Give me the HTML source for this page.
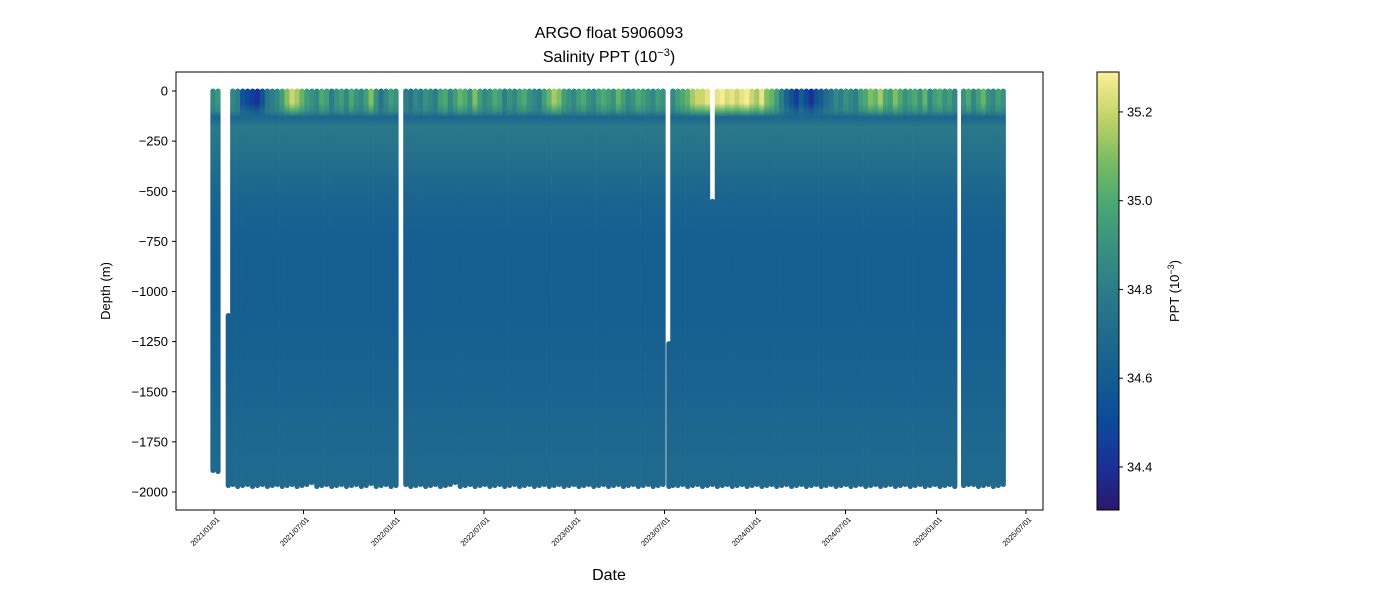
<!DOCTYPE html>
<html><head><meta charset="utf-8"><style>
body{margin:0;background:#fff;}
svg text{font-family:"Liberation Sans",sans-serif;fill:#000;}
</style></head><body>
<svg id="chart" width="1400" height="600" xmlns="http://www.w3.org/2000/svg">
<defs id="defs"></defs>
<text x="609" y="38" font-size="16" text-anchor="middle">ARGO float 5906093</text>
<text x="609" y="62" font-size="16" text-anchor="middle">Salinity PPT (10<tspan dy="-6" font-size="11">−3</tspan><tspan dy="6">)</tspan></text>
<g id="plot"></g>
<rect x="176" y="72" width="867" height="438" fill="none" stroke="#000" stroke-width="1"/>
<g id="yaxis"></g>
<g id="xaxis"></g>
<text transform="translate(110,291) rotate(-90)" font-size="13" text-anchor="middle">Depth (m)</text>
<text x="609" y="580" font-size="16" text-anchor="middle">Date</text>
<g id="cbar"></g>
<text transform="translate(1179,291) rotate(-90)" font-size="13" text-anchor="middle">PPT (10<tspan dy="-5" font-size="9">−3</tspan><tspan dy="5">)</tspan></text>
</svg>
<script>
const profileDays=[-2,8,29,
38,48,58,68,78,88,98,108,118,128,138,148,158,168,178,188,198,208,218,228,238,248,258,268,278,288,298,308,318,328,338,348,358,368,
388,398,408,418,428,438,448,458,468,478,488,498,508,518,528,538,548,558,568,578,588,598,608,618,628,638,648,658,668,678,688,698,708,718,728,738,748,758,768,778,788,798,808,818,828,838,848,858,868,878,888,898,908,
920,
928,938,948,958,968,978,988,998,1008,1018,1028,1038,1048,1058,1068,1078,1088,1098,1108,1118,1128,1138,1148,1158,1168,1178,1188,1198,1208,1218,1228,1238,1248,1258,1268,1278,1288,1298,1308,1318,1328,1338,1348,1358,1368,1378,1388,1398,1408,1418,1428,1438,1448,1458,1468,1478,1488,1498,
1516,1526,1536,1546,1556,1566,1576,1586,1596];
const surfaceSalinity=[34.85,34.92,34.75,
34.85,34.80,34.55,34.50,34.45,34.40,34.55,34.75,34.80,34.85,34.95,35.10,35.20,35.15,35.05,34.95,34.90,34.85,35.00,34.95,34.80,34.90,34.95,34.85,35.00,34.90,34.85,34.95,35.10,34.90,34.75,34.85,34.95,34.90,
34.80,34.75,34.85,34.80,34.90,34.85,34.80,34.95,35.00,34.85,34.95,35.05,35.00,34.90,35.10,34.95,34.85,34.90,35.00,34.95,34.80,34.90,34.85,34.95,35.00,34.90,34.85,34.80,34.95,35.05,35.15,35.10,34.95,34.90,34.85,34.95,35.00,34.90,34.85,34.95,35.00,34.95,34.90,35.05,34.95,34.85,34.90,35.00,34.95,34.90,34.85,34.95,34.90,
34.80,
34.85,34.95,35.00,35.05,35.15,35.20,35.20,35.25,34.60,35.25,35.28,35.22,35.25,35.20,35.25,35.28,35.20,35.15,35.25,35.10,35.05,34.95,34.80,34.65,34.55,34.45,34.60,34.50,34.40,34.55,34.60,34.70,34.75,34.85,34.80,34.90,34.85,34.80,34.95,35.00,35.10,35.05,35.15,35.00,34.95,35.10,35.00,34.90,34.95,35.00,34.90,35.05,34.85,34.95,35.00,34.90,34.95,34.85,
34.90,35.00,34.85,34.95,35.05,34.90,34.85,34.95,34.90];
const bottomDepth=[-1905,-1910,-1980,
-1975,-1985,-1980,-1975,-1985,-1980,-1975,-1985,-1980,-1975,-1985,-1980,-1975,-1985,-1980,-1975,-1965,-1985,-1980,-1975,-1985,-1980,-1975,-1985,-1980,-1975,-1985,-1980,-1970,-1985,-1980,-1975,-1985,-1980,
-1975,-1985,-1980,-1975,-1985,-1980,-1975,-1985,-1980,-1975,-1965,-1985,-1980,-1975,-1985,-1980,-1975,-1985,-1980,-1975,-1985,-1980,-1975,-1985,-1980,-1975,-1985,-1980,-1975,-1985,-1980,-1975,-1985,-1980,-1975,-1985,-1980,-1975,-1985,-1980,-1975,-1985,-1980,-1975,-1985,-1980,-1975,-1985,-1980,-1975,-1985,-1980,-1975,-1985,-1980,
-1980,
-1975,-1985,-1980,-1975,-1985,-1980,-1975,-1985,-1980,-1975,-1985,-1980,-1975,-1985,-1980,-1975,-1985,-1980,-1975,-1985,-1980,-1975,-1985,-1980,-1975,-1985,-1980,-1975,-1985,-1980,-1975,-1985,-1980,-1975,-1985,-1980,-1975,-1985,-1980,-1975,-1985,-1980,-1975,-1985,-1980,-1975,-1985,-1980,-1975,-1985,-1980,-1975,-1985,-1980,-1975,-1985,-1980,-1975,
-1975,-1985,-1980,-1975,-1985,-1980,-1975,-1985,-1980];
const partialTopDays=[29,920,1008];
const partialTopDepth=[-1120,-1260,-550];
const profileDepthLevels=[0,-60,-100,-130,-180,-300,-500,-700,-1000,-1300,-1600,-2000];
const profileBaseSalinity=[null,null,null,34.66,34.78,34.74,34.66,34.62,34.61,34.63,34.66,34.70];
const yTicks=[0,-250,-500,-750,-1000,-1250,-1500,-1750,-2000];
const xTickDays=[0,181,365,546,730,911,1095,1277,1461,1642];
const xTickLabels=["2021/01/01","2021/07/01","2022/01/01","2022/07/01","2023/01/01","2023/07/01","2024/01/01","2024/07/01","2025/01/01","2025/07/01"];
const cbTicks=[34.4,34.6,34.8,35.0,35.2];
const cbMin=34.303,cbMax=35.29;

const NS="http://www.w3.org/2000/svg";
const xScale=d=>214+d*0.4945;
const yScale=v=>91+(-v)*(401/2000);
const stops=[[0,"#2a186c"],[0.1,"#1b2f98"],[0.2,"#0c4a9a"],[0.3,"#145c91"],[0.4,"#216a8d"],[0.5,"#2c7b89"],[0.6,"#389180"],[0.7,"#4aa872"],[0.8,"#7cbd62"],[0.9,"#c5d46a"],[1,"#fdef9a"]];
function hex(h){return [1,3,5].map(i=>parseInt(h.substr(i,2),16));}
function cmap(s){let t=(s-cbMin)/(cbMax-cbMin);t=Math.max(0,Math.min(1,t));
 for(let i=1;i<stops.length;i++){if(t<=stops[i][0]){const a=stops[i-1],b=stops[i];const f=(t-a[0])/(b[0]-a[0]);const ca=hex(a[1]),cb=hex(b[1]);return "rgb("+ca.map((c,k)=>Math.round(c+(cb[k]-c)*f)).join(",")+")";}}
 return stops[stops.length-1][1];}
const defs=document.getElementById('defs');
const plot=document.getElementById('plot');
function mk(tag,attrs,parent){const e=document.createElementNS(NS,tag);for(const k in attrs)e.setAttribute(k,attrs[k]);parent.appendChild(e);return e;}
const w=5.3;
profileDays.forEach((d,i)=>{
 const S=surfaceSalinity[i];
 const sal=profileBaseSalinity.map((v,k)=>k<2?S:(k==2?(S+34.8)/2:v));
 const g=mk('linearGradient',{id:'pg'+i,gradientUnits:'userSpaceOnUse',x1:0,x2:0,y1:yScale(0),y2:yScale(-2000)},defs);
 profileDepthLevels.forEach((dep,k)=>{mk('stop',{offset:(-dep/2000),'stop-color':cmap(sal[k])},g);});
 const pi=partialTopDays.indexOf(d);
 const top=pi>=0?partialTopDepth[pi]:0;
 const x=xScale(d);
 const y0=yScale(top)-2.5,y1=yScale(bottomDepth[i]);
 const r=mk('rect',{x:x-w/2,y:y0,width:w,height:y1-y0,rx:2.6,fill:'url(#pg'+i+')'},plot);
 
 
});
const ya=document.getElementById('yaxis');
yTicks.forEach(v=>{const y=yScale(v);
 mk('line',{x1:172,x2:176,y1:y,y2:y,stroke:'#000'},ya);
 const t=mk('text',{x:168,y:y+4.5,'font-size':13,'text-anchor':'end'},ya);t.textContent=(v<0?'−':'')+Math.abs(v);
 
 });
const xa=document.getElementById('xaxis');
xTickDays.forEach((d,i)=>{const x=xScale(d);
 mk('line',{x1:x,x2:x,y1:510,y2:514,stroke:'#000'},xa);
 const t=mk('text',{transform:`translate(${x+6},${520}) rotate(-45)`,'font-size':7.5,'text-anchor':'end'},xa);t.textContent=xTickLabels[i];
 
 });
const cb=document.getElementById('cbar');
const cg=mk('linearGradient',{id:'cbg',x1:0,x2:0,y1:1,y2:0},defs);
stops.forEach(s=>mk('stop',{offset:s[0],'stop-color':s[1]},cg));
mk('rect',{x:1097,y:72,width:22,height:438,fill:'url(#cbg)',stroke:'#000','stroke-width':1},cb);
const cy=v=>510-(v-cbMin)/(cbMax-cbMin)*438;
cbTicks.forEach(v=>{const y=cy(v);
 mk('line',{x1:1119,x2:1123,y1:y,y2:y,stroke:'#000'},cb);
 const t=mk('text',{x:1127,y:y+4.5,'font-size':13},cb);t.textContent=v.toFixed(1);
 
 });
</script>
</body></html>
